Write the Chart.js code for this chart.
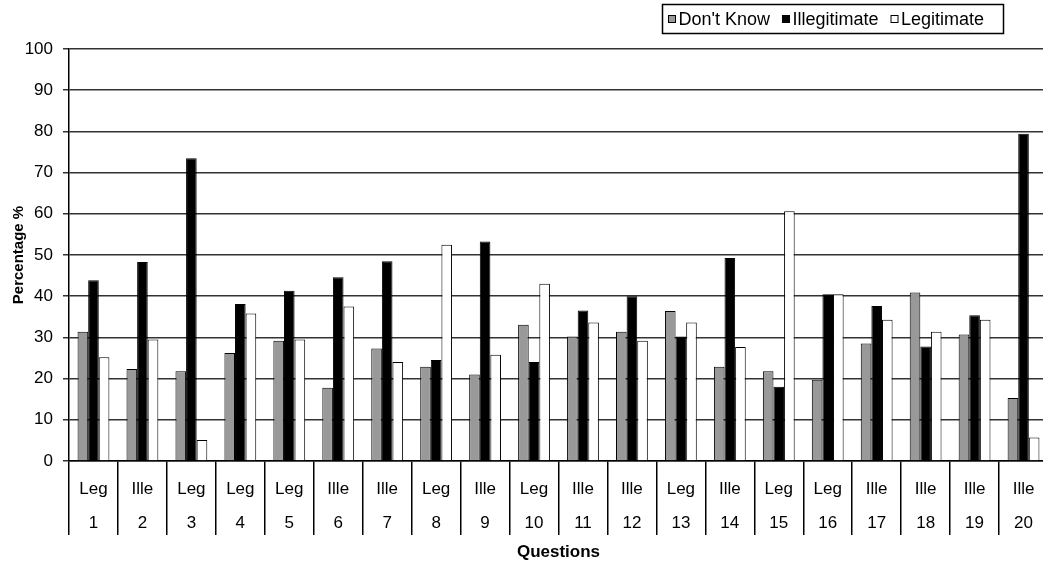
<!DOCTYPE html>
<html><head><meta charset="utf-8">
<script src="https://cdn.jsdelivr.net/npm/chart.js@4.4.1/dist/chart.umd.min.js"></script>
<style>html,body{margin:0;padding:0;overflow:hidden;background:#fff}#wrap{width:1050px;height:564px}</style>
</head><body><div id="wrap"><canvas id="c" width="1050" height="564"></canvas></div>
<script>
const questions = ['1','2','3','4','5','6','7','8','9','10','11','12','13','14','15','16','17','18','19','20'];
const answerTypes = ['Leg','Ille','Leg','Leg','Leg','Ille','Ille','Leg','Ille','Leg','Ille','Ille','Leg','Ille','Leg','Leg','Ille','Ille','Ille','Ille'];
const dontKnow = [31.4,22.3,21.8,26.2,29.2,17.8,27.3,22.9,21.0,33.1,30.2,31.4,36.4,22.9,21.8,19.7,28.5,40.9,30.7,15.3];
const illegitimate = [43.9,48.3,73.5,38.1,41.3,44.6,48.5,24.5,53.3,24.0,36.5,40.0,30.2,49.3,18.0,40.5,37.6,27.8,35.4,79.4];
const legitimate = [25.2,29.5,5.1,35.8,29.5,37.5,24.0,52.5,25.8,43.0,33.6,29.2,33.6,27.7,60.6,40.5,34.3,31.4,34.3,5.7];
const seriesNames = ["Don't Know", 'Illegitimate', 'Legitimate'];
const yMin = 0, yMax = 100, yStep = 10;

const labels = questions.map((q, i) => [answerTypes[i], q]);
const FONT = '"Liberation Sans", Arial, sans-serif';

const legendBox = {
  id: 'legendBox',
  afterDraw(chart) {
    const ctx = chart.ctx;
    ctx.save();
    const x0 = 662.5, y0 = 4.5, w = 341, h = 29;
    ctx.strokeStyle = '#000'; ctx.lineWidth = 1.5;
    ctx.strokeRect(x0, y0, w, h);
    ctx.font = '18px ' + FONT;
    ctx.textBaseline = 'middle';
    let x = x0 + 5.5;
    const cy = y0 + h / 2;
    chart.data.datasets.forEach(ds => {
      ctx.fillStyle = ds.backgroundColor;
      ctx.fillRect(x, cy - 4, 8, 8);
      ctx.strokeStyle = '#000'; ctx.lineWidth = 1;
      ctx.strokeRect(x + 0.5, cy - 3.5, 7, 7);
      x += 10.5;
      ctx.fillStyle = '#000';
      ctx.fillText(ds.label, x, cy + 1);
      x += ctx.measureText(ds.label).width + 12;
    });
    ctx.restore();
  }
};

new Chart(document.getElementById('c'), {
  type: 'bar',
  data: {
    labels: labels,
    datasets: [
      { label: seriesNames[0], data: dontKnow, backgroundColor: '#999999', borderColor: '#000', borderWidth: 1 },
      { label: seriesNames[1], data: illegitimate, backgroundColor: '#000000', borderColor: '#000', borderWidth: 1 },
      { label: seriesNames[2], data: legitimate, backgroundColor: '#ffffff', borderColor: '#000', borderWidth: 1 }
    ]
  },
  options: {
    responsive: false,
    devicePixelRatio: 1,
    animation: false,
    layout: { padding: { top: 49, right: 2, left: 4, bottom: 1 } },
    datasets: { bar: { barPercentage: 1, categoryPercentage: 0.65 } },
    plugins: { legend: { display: false }, tooltip: { enabled: false } },
    scales: {
      x: {
        afterFit: s => { s.height = 102; },
        grid: { offset: true, drawOnChartArea: false, tickLength: 74, color: '#000', lineWidth: 1.5 },
        border: { display: true, color: '#000', width: 1.5 },
        ticks: { color: '#000', font: { size: 17, family: FONT, lineHeight: 2 }, padding: -63, maxRotation: 0, autoSkip: false },
        title: { display: true, text: 'Questions', color: '#000', font: { size: 17, weight: 'bold', family: FONT, lineHeight: 1.2 }, padding: { top: 0, bottom: 0 } }
      },
      y: {
        min: yMin, max: yMax,
        afterFit: s => { s.width = 65; },
        grid: { color: '#333', lineWidth: 1.5, tickLength: 6 },
        border: { display: true, color: '#000', width: 1.5 },
        ticks: { stepSize: yStep, color: '#000', font: { size: 17, family: FONT }, padding: 10 },
        title: { display: true, text: 'Percentage %', color: '#000', font: { size: 15, weight: 'bold', family: FONT, lineHeight: 1 }, padding: { top: 7, bottom: 0 } }
      }
    }
  },
  plugins: [legendBox]
});
</script></body></html>
